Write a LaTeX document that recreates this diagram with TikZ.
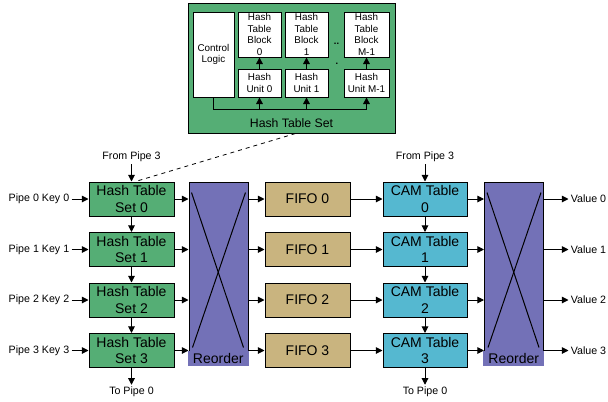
\documentclass[tikz,border=0pt]{standalone}
\usepackage{fontspec}
\setmainfont{Liberation Sans}
\usetikzlibrary{arrows.meta,positioning,calc}
\definecolor{hashgreen}{HTML}{55AE75}
\definecolor{reorderpurple}{HTML}{7371B7}
\definecolor{fifotan}{HTML}{C9B47F}
\definecolor{camcyan}{HTML}{55B8D0}
\tikzset{
  mainbox/.style={draw, line width=0.75pt, align=center, inner sep=1pt,
    minimum width=63.75pt, minimum height=25.5pt,
    font=\fontsize{10.5}{12.6}\selectfont},
  hashbox/.style={mainbox, fill=hashgreen},
  fifobox/.style={mainbox, fill=fifotan},
  cambox/.style={mainbox, fill=camcyan, minimum width=63pt},
  reorderbox/.style={draw, line width=0.75pt, fill=reorderpurple,
    minimum width=44.25pt, minimum height=126.75pt},
  reorderlabel/.style={fill=reorderpurple, inner sep=0pt,
    minimum width=45.75pt, minimum height=11.5pt,
    font=\fontsize{10.5}{12.6}\selectfont},
  smallbox/.style={draw, line width=0.6pt, fill=white, align=center, inner sep=0.5pt,
    font=\fontsize{7.4}{8.7}\selectfont},
  tag/.style={font=\fontsize{8}{9.6}\selectfont, inner sep=1.5pt},
  arr/.style={-{Triangle[length=5pt,width=5pt]}, line width=0.75pt}
}

\begin{document}
\begin{tikzpicture}[x=0.75pt, y=-0.75pt]
  \useasboundingbox (0,0) rectangle (608,401);

  % inside of one hash table set
  \node[draw, line width=0.75pt, fill=hashgreen, minimum width=155.25pt,
    minimum height=97.5pt] (htset) at (291.5,68) {};
  \node[font=\fontsize{9.2}{11}\selectfont] (htsetlbl) at (291.5,123) {Hash Table Set};
  \node[smallbox, minimum width=30.75pt, minimum height=63.75pt] (ctrl) at (213.5,54.5) {Control\\Logic};
  \node[smallbox, minimum width=32.25pt, minimum height=33.75pt] (block0) at (259.5,34.5) {Hash\\Table\\Block\\0};
  \node[smallbox, minimum width=32.25pt, minimum height=33.75pt] (block1) at (306.5,34.5) {Hash\\Table\\Block\\1};
  \node[smallbox, minimum width=33.75pt, minimum height=33.75pt] (blockM) at (366.5,34.5) {Hash\\Table\\Block\\M-1};
  \node[smallbox, minimum width=32.25pt, minimum height=21pt] (unit0) at (259.5,83) {Hash\\Unit 0};
  \node[smallbox, minimum width=32.25pt, minimum height=21pt] (unit1) at (306.5,83) {Hash\\Unit 1};
  \node[smallbox, minimum width=33.75pt, minimum height=21pt] (unitM) at (366.5,83) {Hash\\Unit M-1};
  \node[font=\bfseries\fontsize{7}{8}\selectfont, inner sep=0pt] (dotsA) at (336.5,44) {..};
  \node[font=\bfseries\fontsize{7}{8}\selectfont, inner sep=0pt] (dotsB) at (337,64) {.};
  \coordinate (busend) at (366.5,109);
  \draw[line width=0.75pt] (ctrl.south) |- (busend);
  \foreach \u in {0,1,M} {
    \draw[arr] (unit\u |- busend) -- (unit\u.south);
    \draw[arr] (unit\u.north) -- (block\u.south);
  }

  % the four lanes
  \foreach \i in {0,...,3} {
    \node[hashbox] (set\i) at (131.5,{199+50.5*\i}) {Hash Table\\Set \i};
    \node[fifobox] (fifo\i) at (307.5,{199+50.5*\i}) {FIFO \i};
    \node[cambox] (cam\i) at (425,{199+50.5*\i}) {CAM Table\\\i};
    \node[tag, left=12.75pt of set\i] (key\i) {Pipe \i\ Key \i};
    \node[tag, anchor=west] (val\i) at (568.5,{199+50.5*\i}) {Value \i};
  }
  \node[reorderbox] (reord1) at (218.5,266.5) {};
  \node[reorderbox] (reord2) at (514,266.5) {};
  \foreach \r in {1,2} {
    \draw[line width=0.75pt] ($(reord\r.north west)+(3,11)$) -- ($(reord\r.south east)+(-5,-4)$);
    \draw[line width=0.75pt] ($(reord\r.north east)+(-3,11)$) -- ($(reord\r.south west)+(4,-4)$);
    \node[reorderlabel, anchor=north east] (reord\r lbl) at ($(reord\r.south east)+(0.5,-1)$) {Reorder};
  }

  % chain ends
  \node[tag] (from0) at (131.5,157) {From Pipe 3};
  \node[tag] (to0) at (131.5,392) {To Pipe 0};
  \node[tag] (from1) at (425,157) {From Pipe 3};
  \node[tag] (to1) at (425,392) {To Pipe 0};
  \draw[arr] (from0) -- (set0);
  \draw[arr] (set3) -- (to0);
  \draw[arr] (from1) -- (cam0);
  \draw[arr] (cam3) -- (to1);
  \draw[dashed, line width=0.6pt] ([xshift=3pt]htset.south) -- ([xshift=3pt]set0.north);

  % connectors
  \foreach \i in {0,...,3} {
    \draw[arr] (key\i) -- (set\i);
    \draw[arr] (set\i.east) -- (set\i.east -| reord1.west);
    \draw[arr] (fifo\i.west -| reord1.east) -- (fifo\i.west);
    \draw[arr] (fifo\i) -- (cam\i);
    \draw[arr] (cam\i.east) -- (cam\i.east -| reord2.west);
    \draw[arr] (val\i.west -| reord2.east) -- (val\i.west);
  }
  \foreach \i/\j in {0/1,1/2,2/3} {
    \draw[arr] (set\i) -- (set\j);
    \draw[arr] (cam\i) -- (cam\j);
  }
\end{tikzpicture}
\end{document}
